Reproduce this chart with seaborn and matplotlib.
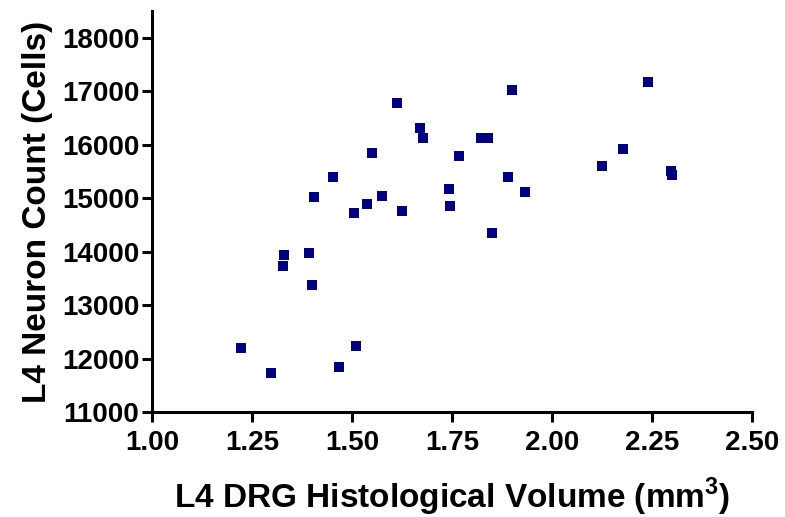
import matplotlib
matplotlib.use("Agg")
import matplotlib.pyplot as plt
import seaborn as sns
import pandas as pd

volume_mm3 = [1.613, 1.671, 1.677, 1.551, 1.7675, 1.4525, 1.742, 1.406, 1.576, 1.538,
              1.504, 1.626, 1.745, 1.331, 1.392, 1.327, 1.400, 1.222, 1.511, 1.297,
              1.468, 1.899, 1.8225, 1.841, 1.890, 1.933, 1.849, 2.240, 2.178, 2.126,
              2.297, 2.301]
neuron_count = [16781, 16321, 16121, 15835, 15785, 15393, 15162, 15019, 15032, 14893,
                14714, 14757, 14850, 13934, 13977, 13729, 13368, 12196, 12239, 11729,
                11847, 17018, 16134, 16127, 15393, 15117, 14340, 17168, 15921, 15603,
                15499, 15435]
x_ticks = [1.00, 1.25, 1.50, 1.75, 2.00, 2.25, 2.50]
x_tick_labels = ["1.00", "1.25", "1.50", "1.75", "2.00", "2.25", "2.50"]
y_ticks = [11000, 12000, 13000, 14000, 15000, 16000, 17000, 18000]
y_tick_labels = ["11000", "12000", "13000", "14000", "15000", "16000", "17000", "18000"]

df = pd.DataFrame({"volume": volume_mm3, "count": neuron_count})

sns.set_style("ticks")
plt.rcParams["font.family"] = ["Liberation Sans", "DejaVu Sans"]
plt.rcParams["font.weight"] = "bold"
plt.rcParams["text.color"] = "black"
plt.rcParams["axes.labelcolor"] = "black"
plt.rcParams["xtick.color"] = "black"
plt.rcParams["ytick.color"] = "black"
plt.rcParams["mathtext.fontset"] = "custom"
plt.rcParams["mathtext.bf"] = "Liberation Sans:bold"
plt.rcParams["mathtext.rm"] = "Liberation Sans:bold"

fig = plt.figure(figsize=(7.85, 5.17), dpi=100)
ax = fig.add_axes([152/785, 105/517, 600/785, 401/517])

sns.scatterplot(data=df, x="volume", y="count", marker="s", color="#000080",
                s=62, linewidth=0, ax=ax, clip_on=False)

ax.set_xlim(1.0, 2.5)
ax.set_ylim(11000, 18500)
ax.set_xticks(x_ticks)
ax.set_xticklabels(x_tick_labels)
ax.set_yticks(y_ticks)
ax.set_yticklabels(y_tick_labels)

for side in ["top", "right"]:
    ax.spines[side].set_visible(False)
for side in ["left", "bottom"]:
    ax.spines[side].set_linewidth(2.2)
    ax.spines[side].set_color("black")

ax.tick_params(axis="both", direction="out", length=7.2, width=2.2, colors="black",
               labelsize=20)
ax.tick_params(axis="y", pad=2)
ax.tick_params(axis="x", pad=6)
for lab in ax.get_xticklabels() + ax.get_yticklabels():
    lab.set_fontweight("bold")

ax.set_xlabel(r"L4 DRG Histological Volume (mm$^{\mathbf{3}}$)", fontsize=24,
              fontweight="bold")
ax.set_ylabel("L4 Neuron Count (Cells)", fontsize=24, fontweight="bold")
ax.xaxis.set_label_coords(0.5, -0.16)
ax.yaxis.set_label_coords(-0.165, 0.5)

fig.savefig("out.png", dpi=100)
